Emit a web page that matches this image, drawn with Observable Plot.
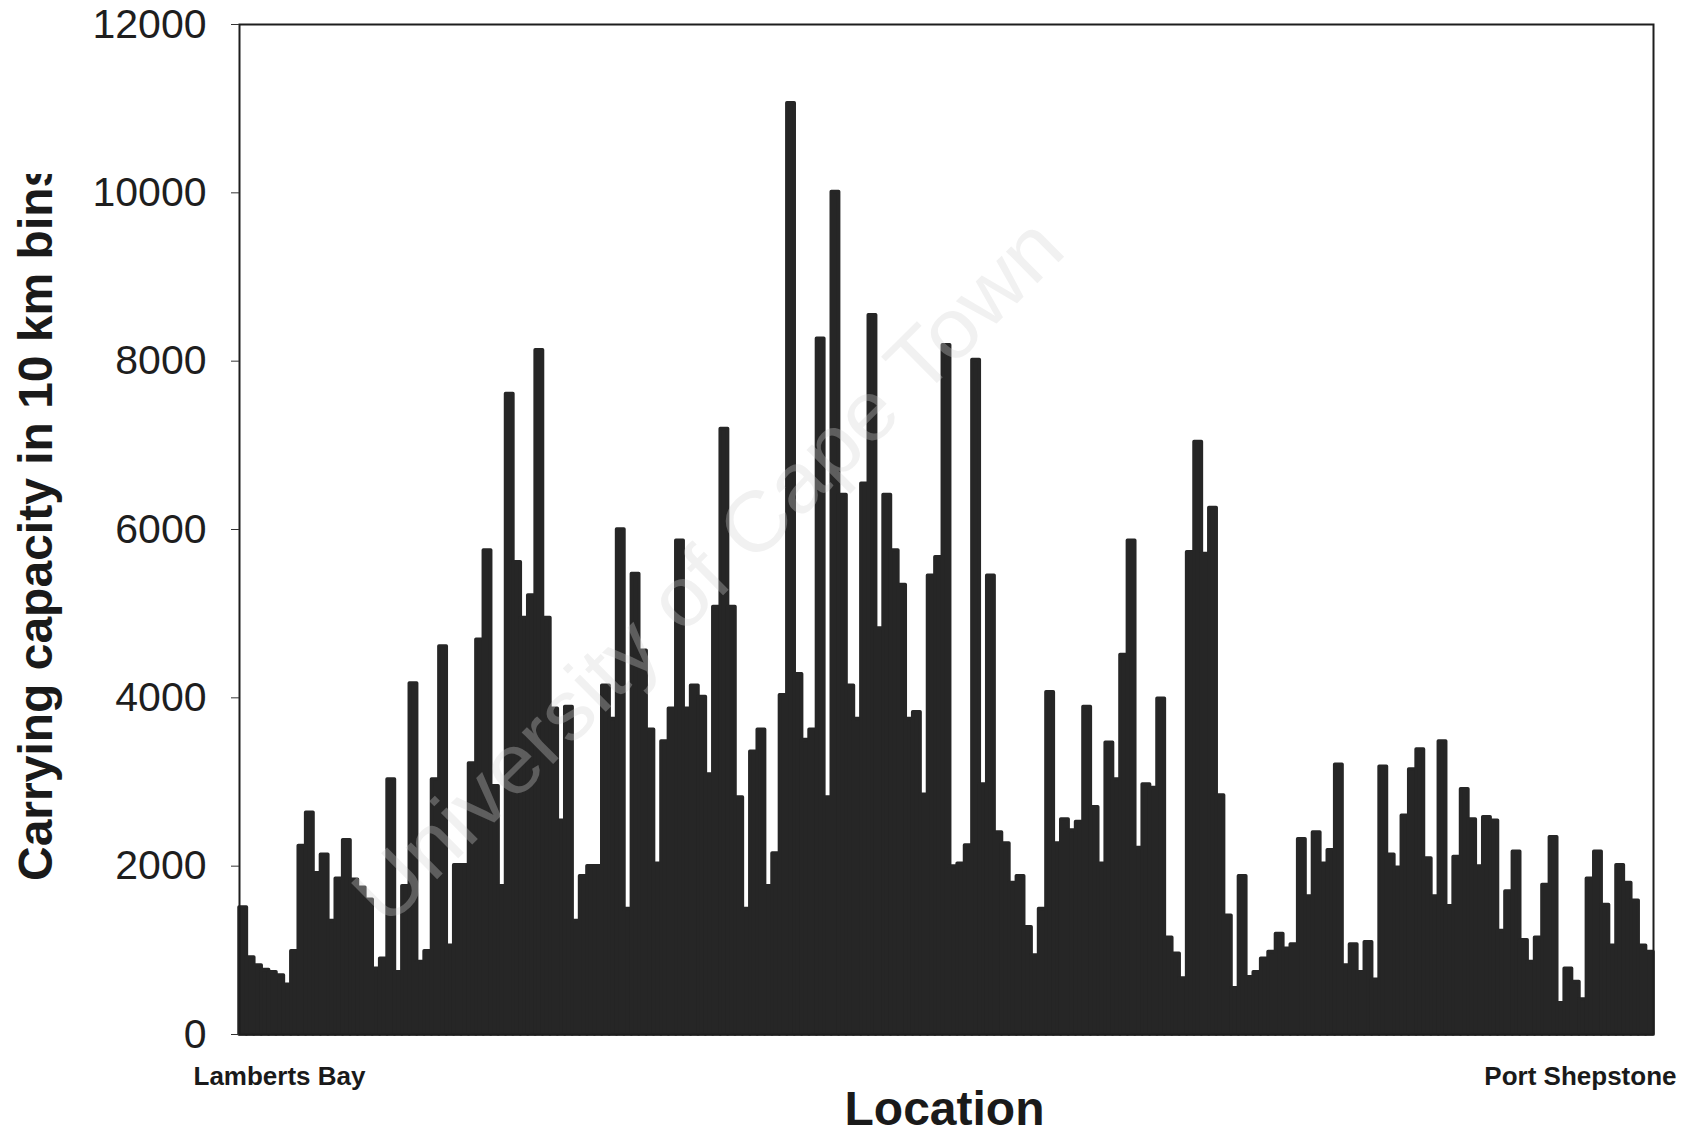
<!DOCTYPE html>
<html>
<head>
<meta charset="utf-8">
<script src="https://cdn.jsdelivr.net/npm/d3@7"></script>
<script src="https://cdn.jsdelivr.net/npm/@observablehq/plot@0.6"></script>
<style>
  body { margin: 0; background: #fff; }
</style>
</head>
<body>
<div id="chart"></div>
<script>
// Carrying capacity per 10 km coastal bin, ordered from Lamberts Bay to Port Shepstone
const capacity = [
  1510, 915, 820, 766, 740, 700, 590, 990, 2240, 2635, 1915, 2135, 1350, 1850, 2307, 1840, 1745, 1600, 780, 900, 3030, 740, 1760,
  4170, 860, 990, 3030, 4610, 1055, 2010, 2010, 3220, 4690, 5750, 2950, 1760, 7610, 5610, 4950, 5215, 8130, 4950, 3870, 2540, 3890, 1350, 1880,
  2000, 2000, 4145, 3750, 6000, 1490, 5470, 4560, 3620, 2030, 3480, 3870, 5865, 3870, 4145, 4010, 3090, 5080, 7195, 5080, 2815, 1490, 3360,
  3620, 1760, 2150, 4030, 11065, 4280, 3500, 3620, 8265, 2815, 10010, 6410, 4145, 3750, 6545, 8545, 4825, 6410, 5750, 5340, 3750, 3830, 2850,
  5450, 5670, 8190, 1995, 2030, 2245, 8015, 2970, 5450, 2400, 2270, 1800, 1880, 1275, 940, 1490, 4065, 2270, 2555, 2425, 2525, 3890, 2700,
  2030, 3465, 3030, 4510, 5865, 2215, 2970, 2930, 3990, 1150, 960, 665, 5730, 7040, 5710, 6255, 2840, 1410, 550, 1880, 680, 740, 900,
  980, 1195, 1020, 1070, 2320, 1640, 2400, 2030, 2190, 3205, 820, 1070, 740, 1095, 650, 3180, 2135, 1980, 2600, 3150, 3385, 2090,
  1640, 3480, 1525, 2110, 2915, 2555, 1995, 2580, 2540, 1230, 1700, 2170, 1120, 860, 1150, 1775, 2345, 370, 780, 625, 415, 1850, 2170,
  1540, 1055, 2010, 1800, 1590, 1055, 980
];

// Axis ticks and labels
const yTicks = [0, 2000, 4000, 6000, 8000, 10000, 12000];
const startLabel = "Lamberts Bay";
const endLabel = "Port Shepstone";
const xTitle = "Location";
const yTitle = "Carrying capacity in 10 km bins";
const watermark = "University of Cape Town";

const bins = capacity.map((v, i) => ({bin: i, capacity: v}));
const ink = "#262626";

const chart = Plot.plot({
  width: 1701,
  height: 1134,
  marginLeft: 239,
  marginRight: 48,
  marginTop: 24,
  marginBottom: 100,
  style: {
    fontFamily: "'Liberation Sans', Arial, Helvetica, sans-serif",
    fontSize: "41px",
    color: "#1e1e1e",
    background: "#fff"
  },
  x: {type: "band", domain: d3.range(capacity.length), padding: 0, axis: null},
  y: {domain: [0, 12000]},
  marks: [
    Plot.barY(bins, {
      x: "bin", y: "capacity",
      fill: ink, stroke: ink, strokeWidth: 3.5, strokeLinejoin: "round"
    }),
    Plot.frame({stroke: "#1e1e1e", strokeWidth: 2}),
    Plot.axisY(yTicks, {
      tickFormat: d3.format("d"), tickSize: 8, tickPadding: 25,
      stroke: "#333", label: null
    }),
    Plot.text([startLabel], {
      frameAnchor: "bottom-left", textAnchor: "start", dx: -46, dy: 50,
      fontWeight: "bold", fontSize: 26, fill: "#1a1a1a"
    }),
    Plot.text([endLabel], {
      frameAnchor: "bottom-right", textAnchor: "end", dx: 23, dy: 50,
      fontWeight: "bold", fontSize: 26, fill: "#1a1a1a"
    }),
    Plot.text([xTitle], {
      frameAnchor: "bottom", dx: -2, dy: 90,
      fontWeight: "bold", fontSize: 48, fill: "#1a1a1a"
    })
  ]
});

const svg = d3.select(chart);

// Rotated y title, cut off at the top of its box
const clipId = "ytitle-clip";
svg.append("defs").append("clipPath").attr("id", clipId)
  .append("rect").attr("x", 0).attr("y", 174).attr("width", 120).attr("height", 900);
svg.append("g").attr("clip-path", `url(#${clipId})`)
  .append("text")
  .attr("transform", "translate(52,881) rotate(-90)")
  .attr("text-anchor", "start")
  .attr("font-weight", "bold")
  .attr("font-size", 48)
  .attr("fill", "#1a1a1a")
  .text(yTitle);

// Faint diagonal watermark across the plot
svg.append("text")
  .attr("transform", "translate(712,575) rotate(-44.8)")
  .attr("text-anchor", "middle")
  .attr("dominant-baseline", "middle")
  .attr("font-size", 84)
  .attr("textLength", 960)
  .attr("lengthAdjust", "spacingAndGlyphs")
  .attr("fill", "#d4d4d4")
  .attr("opacity", 0.32)
  .text(watermark);

document.getElementById("chart").appendChild(chart);
</script>
</body>
</html>
